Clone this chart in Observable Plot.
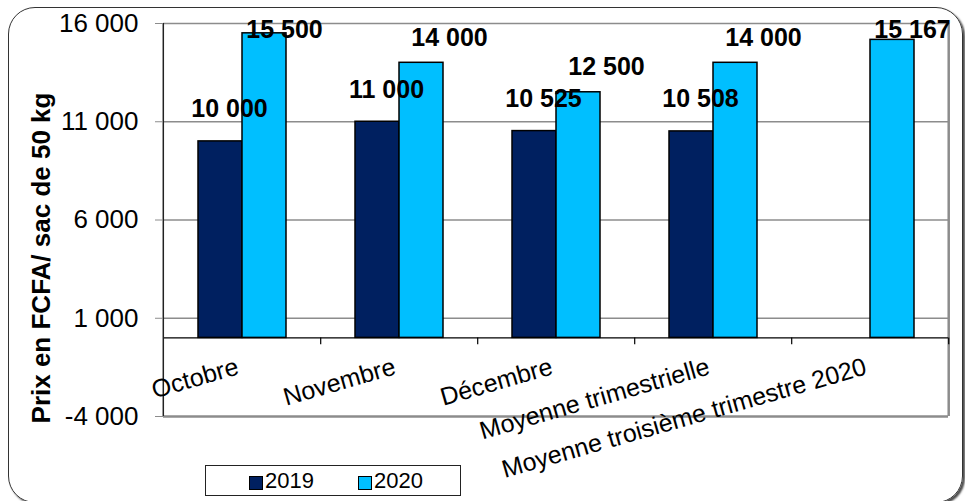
<!DOCTYPE html>
<html>
<head>
<meta charset="utf-8">
<script src="https://cdn.jsdelivr.net/npm/d3@7"></script>
<script src="https://cdn.jsdelivr.net/npm/@observablehq/plot@0.6"></script>
<style>
  html, body { margin: 0; padding: 0; background: #fff; }
  #wrap { position: relative; width: 965px; height: 501px; overflow: hidden; font-family: "Liberation Sans", Arial, sans-serif; }
  #border { position: absolute; left: 8px; top: 7px; width: 955px; height: 496px; box-sizing: border-box;
            border: 1.3px solid #333; border-radius: 27px; box-shadow: 2px 2px 2px rgba(0,0,0,0.7); pointer-events: none; }
  #chart { position: absolute; left: 0; top: 0; }
  #legend { position: absolute; left: 205px; top: 465px; width: 256px; height: 31px; box-sizing: border-box;
            border: 1.3px solid #222; background: #fff; }
  .sw { position: absolute; top: 10px; width: 14px; height: 14px; box-sizing: border-box; border: 1.8px solid #000; }
  .lt { position: absolute; top: 3px; font-size: 22px; line-height: 24px; color: #000; }
</style>
</head>
<body>
<div id="wrap">
  <div id="border"></div>
  <div id="chart"></div>
  <div id="legend"></div>
</div>
<script>
// ---- data ----
const months = ["Octobre", "Novembre", "Décembre", "Moyenne trimestrielle", "Moyenne troisième trimestre 2020"];
const years = ["2019", "2020"];
const values2019 = [10000, 11000, 10525, 10508, null];
const values2020 = [15500, 14000, 12500, 14000, 15167];
const yTicks = [-4000, 1000, 6000, 11000, 16000];
const gridValues = [1000, 6000, 11000, 16000];
const colors = ["#002060", "#00BFFF"];
const yTitle = "Prix en FCFA/ sac de 50 kg";

const seriesByYear = {"2019": values2019, "2020": values2020};
const data = months.flatMap((m, i) => years.map(y => ({month: m, year: y, value: seriesByYear[y][i]})))
  .filter(d => d.value != null);

const fmt = d3.formatLocale({decimal: ",", thousands: " ", grouping: [3], currency: ["", ""], minus: "-"}).format(",");

// ---- layout ----
const W = 965, H = 501, ML = 162, MR = 16, MT = 23, MB = 85;
const half = (W - ML - MR) / months.length / 2;
const yMin = yTicks[0], yMax = yTicks[yTicks.length - 1];
const font = "Liberation Sans, Arial, sans-serif";
// labels of bars reaching close to the top of the frame are pinned to the frame top
const nearTop = d => d.value > yMax - 1500;
const lab2019 = data.filter(d => d.year === "2019");
const lab2020 = data.filter(d => d.year === "2020" && !nearTop(d));
const lab2020Top = data.filter(d => d.year === "2020" && nearTop(d));
const labelStyle = {text: d => fmt(d.value), fontSize: 25, fontWeight: "bold", fill: "#000"};

const chart = Plot.plot({
  width: W, height: H,
  marginLeft: ML, marginRight: MR, marginTop: MT, marginBottom: MB,
  style: {fontFamily: font, background: "transparent", color: "#000", overflow: "visible"},
  fx: {domain: months, padding: 0, axis: null, label: null},
  x: {domain: years, paddingInner: 0, paddingOuter: 0.77, axis: null, label: null},
  y: {domain: [yMin, yMax], axis: null, label: null},
  color: {domain: years, range: colors},
  marks: [
    Plot.ruleY(gridValues, {stroke: "#8c8c8c", strokeWidth: 1.3}),
    Plot.ruleY([yMin], {stroke: "#8c8c8c", strokeWidth: 2.5}),
    Plot.ruleX([months[months.length - 1]], {fx: d => d, x: null, y1: () => yMin, y2: () => yMax, dx: half, stroke: "#8c8c8c", strokeWidth: 2.5}),
    Plot.barY(data, {fx: "month", x: "year", y: "value", fill: "year", stroke: "#000", strokeWidth: 1.5}),
    Plot.ruleY([0], {stroke: "#000", strokeWidth: 1.3}),
    Plot.ruleX(months, {fx: d => d, x: null, y1: () => 0, y2: () => -350, dx: half, stroke: "#000", strokeWidth: 1.2}),
    Plot.ruleX([months[0]], {fx: d => d, x: null, y1: () => yMin, y2: () => yMax, dx: -half, stroke: "#222", strokeWidth: 1.5}),
    Plot.axisY(yTicks, {anchor: "left", tickSize: 8, tickPadding: 17, fontSize: 26, tickFormat: fmt, stroke: "#8c8c8c", label: null}),
    Plot.text(lab2019, {fx: "month", x: "year", y: "value", lineAnchor: "bottom", dx: 9, dy: -24, ...labelStyle}),
    Plot.text(lab2020, {fx: "month", x: "year", y: "value", lineAnchor: "bottom", dx: 28, dy: -17, ...labelStyle}),
    Plot.text(lab2020Top, {fx: "month", x: "year", frameAnchor: "top", lineAnchor: "top", textAnchor: "middle", dx: 20, dy: -3, ...labelStyle}),
    Plot.text(months, {fx: d => d, y: () => 0, text: d => d, rotate: -16, textAnchor: "end", lineAnchor: "bottom",
      dx: -2, dy: 36, fontSize: 25, fill: "#000"}),
    Plot.text([yTitle], {fx: () => months[0], frameAnchor: "left", text: d => d, rotate: -90, textAnchor: "middle",
      dx: -122, dy: 38, fontSize: 26, fontWeight: "bold", fill: "#000"})
  ]
});
document.getElementById("chart").appendChild(chart);

// ---- legend ----
const legend = document.getElementById("legend");
const swLeft = [43, 152];
years.forEach((y, i) => {
  const sw = document.createElement("div");
  sw.className = "sw";
  sw.style.left = swLeft[i] + "px";
  sw.style.background = colors[i];
  legend.appendChild(sw);
  const t = document.createElement("div");
  t.className = "lt";
  t.style.left = (swLeft[i] + 16) + "px";
  t.textContent = y;
  legend.appendChild(t);
});
</script>
</body>
</html>
